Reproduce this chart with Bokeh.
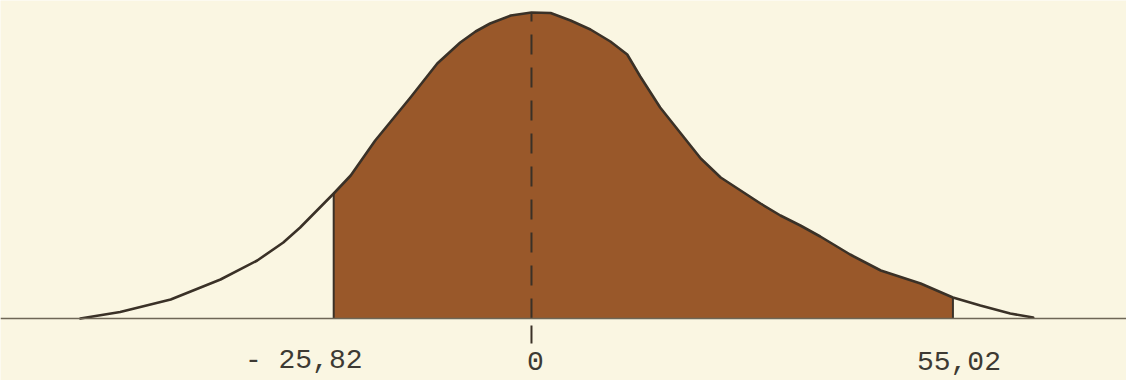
from bokeh.plotting import figure
from bokeh.models import ColumnDataSource, Range1d, Span
from bokeh.core.properties import value
from bokeh.embed import file_html
from bokeh.resources import INLINE

# ---- data (x in the chart's units, y = relative frequency) ----
curve_x = [-58.9, -53.7, -47.1, -40.6, -35.8, -32.4, -30.2, -25.82, -23.6, -20.4,
           -15.8, -12.3, -9.3, -7.3, -5.4, -2.7, 0.0, 2.5, 5.1, 7.7, 10.3, 12.5,
           14.2, 16.8, 19.5, 22.1, 24.7, 29.9, 32.5, 35.1, 37.7, 41.6, 45.6, 50.8,
           55.02, 58.6, 62.5, 65.5]
curve_y = [0, 6.5, 19, 39, 58, 76, 91, 125, 143, 178,
           221, 255, 276, 287, 295, 303, 306, 305.5, 298, 289, 277, 264,
           242, 211, 185, 160, 141, 115, 103, 93, 82, 64, 48, 35,
           21, 13, 5, 1]

lower_limit = -25.82
upper_limit = 55.02
center_value = 0.0
tick_values = [-25.82, 0.0, 55.02]
tick_labels = ["- 25,82", "0", "55,02"]

# ---- styles ----
BG = "#faf6e2"
FILL = "#99582a"
INK = "#3a3127"
BASE = "#6e6656"

p = figure(width=1126, height=380, output_backend="svg", toolbar_location=None,
           x_range=Range1d(-69.32, 77.68), y_range=Range1d(-62, 318),
           min_border=0, background_fill_color=BG, border_fill_color=BG,
           outline_line_color=None)
p.xaxis.visible = False
p.yaxis.visible = False
p.grid.visible = False

# shaded area between the two limits
fx = [x for x in curve_x if lower_limit <= x <= upper_limit]
fy = [y for x, y in zip(curve_x, curve_y) if lower_limit <= x <= upper_limit]
p.varea(x=fx, y1=[0] * len(fx), y2=fy, fill_color=FILL, fill_alpha=1.0)

# baseline
p.add_layout(Span(location=0, dimension="width", line_color=BASE, line_width=1.6))

# dashed line at the centre value
peak_at_center = curve_y[curve_x.index(center_value)]
p.segment(x0=[center_value], y0=[0], x1=[center_value], y1=[peak_at_center],
          line_color=INK, line_width=2, line_dash="20 13")

# small tick below baseline at centre
p.segment(x0=[center_value], y0=[-7], x1=[center_value], y1=[-25],
          line_color=INK, line_width=2)

# vertical edges of the shaded area
edge_x = [lower_limit, upper_limit]
edge_top = [curve_y[curve_x.index(lower_limit)], curve_y[curve_x.index(upper_limit)]]
p.segment(x0=edge_x, y0=[0, 0], x1=edge_x, y1=edge_top, line_color=INK, line_width=2)

# the curve
p.line(curve_x, curve_y, line_color=INK, line_width=2.6, line_join="round", line_cap="round")

# labels
lab = ColumnDataSource(dict(x=tick_values, y=[0] * 3, text=tick_labels, xo=[-30, 4, 6]))
p.text(x="x", y="y", text="text", x_offset="xo", y_offset=42, source=lab,
       text_align="center", text_baseline="alphabetic",
       text_font=value("Liberation Mono"), text_font_size="28px", text_color="#3d3a33")

open("out.html", "w").write(file_html(p, INLINE))
